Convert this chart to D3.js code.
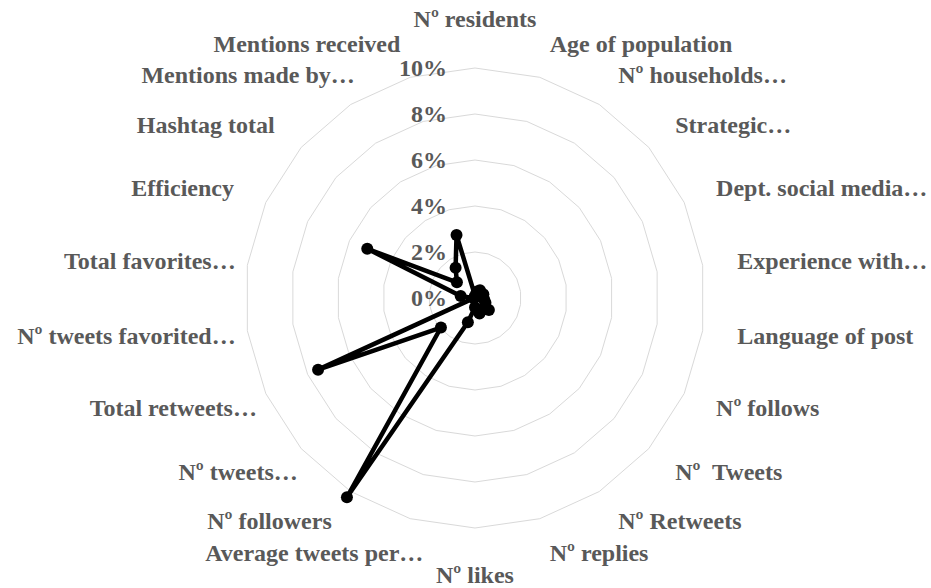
<!DOCTYPE html>
<html>
<head>
<meta charset="utf-8">
<script src="https://cdn.jsdelivr.net/npm/d3@7"></script>
<style>
  html, body { margin: 0; padding: 0; background: #fff; }
  svg text { font-family: 'Liberation Serif', 'Times New Roman', serif; font-weight: bold; fill: #595959; white-space: pre; }
</style>
</head>
<body>
<svg id="chart" width="931" height="588"></svg>
<script>
// categories clockwise from the top
const categories = [
  'Nº residents', 'Age of population', 'Nº households…', 'Strategic…',
  'Dept. social media…', 'Experience with…', 'Language of post', 'Nº follows',
  'Nº  Tweets', 'Nº Retweets', 'Nº replies', 'Nº likes',
  'Average tweets per…', 'Nº followers', 'Nº tweets…', 'Total retweets…',
  'Nº tweets favorited…', 'Total favorites…', 'Efficiency', 'Hashtag total',
  'Mentions made by…', 'Mentions received'
];
// values in percent
const values = [
  0.1, 0.3, 0.4, 0.3, 0.4, 0.3, 0.4, 0.5,
  0.8, 0.6, 0.7, 0.4,
  1.1, 10.3, 1.96, 7.5,
  0.05, 0.63, 5.15, 1.04,
  1.56, 2.85
];
const ticks = [0, 2, 4, 6, 8, 10];

const cx = 475, cy = 298;
const outerR = 230;
const labelR = 265;

const svg = d3.select('#chart');
const g = svg.append('g').attr('transform', `translate(${cx},${cy})`);

const r = d3.scaleLinear().domain([0, 10]).range([0, outerR]);
const angle = d3.scaleLinear().domain([0, categories.length]).range([0, 2 * Math.PI]);
const idx = d3.range(categories.length);

// grid rings (polygons)
const ring = d3.lineRadial()
  .angle((i) => angle(i))
  .curve(d3.curveLinearClosed);

g.append('g').selectAll('path')
  .data(ticks.filter((t) => t > 0))
  .join('path')
  .attr('d', (t) => ring.radius(r(t))(idx))
  .attr('fill', 'none')
  .attr('stroke', '#d9d9d9')
  .attr('stroke-width', 1);

// tick labels
g.append('g').selectAll('text')
  .data(ticks)
  .join('text')
  .attr('x', -28)
  .attr('y', (t) => -r(t))
  .attr('dy', '0.35em')
  .attr('text-anchor', 'end')
  .attr('font-size', 24)
  .text((t) => `${t}%`);

// data line
const line = d3.lineRadial()
  .angle((d, i) => angle(i))
  .radius((d) => r(d))
  .curve(d3.curveLinearClosed);

g.append('path')
  .attr('d', line(values))
  .attr('fill', 'none')
  .attr('stroke', '#000')
  .attr('stroke-width', 4.5)
  .attr('stroke-linejoin', 'round');

g.append('g').selectAll('circle')
  .data(values)
  .join('circle')
  .attr('cx', (d, i) => r(d) * Math.sin(angle(i)))
  .attr('cy', (d, i) => -r(d) * Math.cos(angle(i)))
  .attr('r', 6)
  .attr('fill', '#000');

// category labels; truncated labels on the left sit a bit closer (like Excel)
g.append('g').selectAll('text')
  .data(categories)
  .join('text')
  .attr('font-size', 24)
  .each(function (c, i) {
    const a = angle(i);
    const s = Math.sin(a);
    const co = Math.cos(a);
    let x = labelR * s;
    let y = labelR * -co;
    let anchor = 'middle';
    if (s > 0.01) anchor = 'start';
    else if (s < -0.01) {
      anchor = 'end';
      if (c.endsWith('…')) x += 23;
    } else y += co > 0 ? -14 : 12;
    d3.select(this)
      .attr('x', x)
      .attr('y', y)
      .attr('dy', '0.35em')
      .attr('text-anchor', anchor)
      .text(c);
  });
</script>
</body>
</html>
